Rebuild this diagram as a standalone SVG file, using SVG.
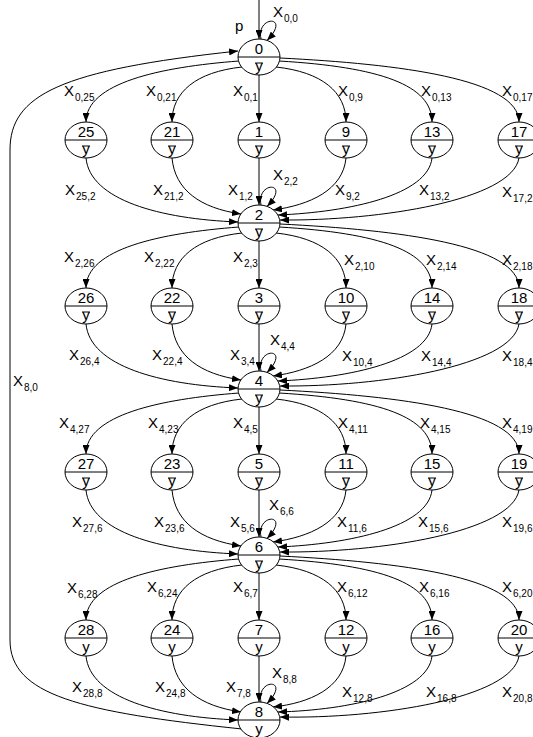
<svg xmlns="http://www.w3.org/2000/svg" width="533" height="737" viewBox="0 0 533 737">
<defs>
<marker id="a" viewBox="0 0 9 7" refX="9" refY="3.5" markerWidth="9" markerHeight="7" markerUnits="userSpaceOnUse" orient="auto"><path d="M0,0 L9,3.5 L0,7 z" fill="#000"/></marker>
<style>
.n ellipse{fill:#fff;stroke:#000;stroke-width:1}
.n line{stroke:#000;stroke-width:1}
.num{font-family:"Liberation Sans",Arial,sans-serif;font-size:15px;text-anchor:middle;fill:#000}
#edges path{fill:none;stroke:#000;stroke-width:1;marker-end:url(#a)}
.lb{font-family:"Liberation Sans",Arial,sans-serif;font-size:15px;fill:#000}
.sb{font-size:10px}
</style>
</defs>
<rect width="533" height="737" fill="#fff"/>
<g id="edges">
<path d="M259,0 L259,39"/>
<path d="M242,729 C80,712 10,695 10,640 L10,150 C10,95 60,70 238,51"/>
<path d="M239,61 C160,67 86,83 86,122"/>
<path d="M242,67 C196,72 172,92 172,122"/>
<path d="M259,75 L259,122"/>
<path d="M276,67 C322,72 346,92 346,122"/>
<path d="M279,61 C380,67 432,85 432,122"/>
<path d="M280,58 C400,64 519,79 519,122"/>
<path d="M86,158 C90,200 160,219 238,222"/>
<path d="M172,158 C175,190 200,208 241,214"/>
<path d="M259,158 L259,205"/>
<path d="M346,158 C343,190 310,205 273,210"/>
<path d="M432,158 C428,195 350,212 278,215"/>
<path d="M519,158 C512,200 380,221 280,220"/>
<path d="M261,39 C256,15 292,15 267,40.5"/>
<path d="M239,227 C160,233 86,249 86,288"/>
<path d="M242,233 C196,238 172,258 172,288"/>
<path d="M259,241 L259,288"/>
<path d="M276,233 C322,238 346,258 346,288"/>
<path d="M279,227 C380,233 432,251 432,288"/>
<path d="M280,224 C400,230 519,245 519,288"/>
<path d="M86,324 C90,366 160,385 238,388"/>
<path d="M172,324 C175,356 200,374 241,380"/>
<path d="M259,324 L259,371"/>
<path d="M346,324 C343,356 310,371 273,376"/>
<path d="M432,324 C428,361 350,378 278,381"/>
<path d="M519,324 C512,366 380,387 280,386"/>
<path d="M261,205 C256,181 292,181 267,206.5"/>
<path d="M239,393 C160,399 86,415 86,454"/>
<path d="M242,399 C196,404 172,424 172,454"/>
<path d="M259,407 L259,454"/>
<path d="M276,399 C322,404 346,424 346,454"/>
<path d="M279,393 C380,399 432,417 432,454"/>
<path d="M280,390 C400,396 519,411 519,454"/>
<path d="M86,490 C90,532 160,551 238,554"/>
<path d="M172,490 C175,522 200,540 241,546"/>
<path d="M259,490 L259,537"/>
<path d="M346,490 C343,522 310,537 273,542"/>
<path d="M432,490 C428,527 350,544 278,547"/>
<path d="M519,490 C512,532 380,553 280,552"/>
<path d="M261,371 C256,347 292,347 267,372.5"/>
<path d="M239,559 C160,565 86,581 86,620"/>
<path d="M242,565 C196,570 172,590 172,620"/>
<path d="M259,573 L259,620"/>
<path d="M276,565 C322,570 346,590 346,620"/>
<path d="M279,559 C380,565 432,583 432,620"/>
<path d="M280,556 C400,562 519,577 519,620"/>
<path d="M86,656 C90,698 160,717 238,720"/>
<path d="M172,656 C175,688 200,706 241,712"/>
<path d="M259,656 L259,702"/>
<path d="M346,656 C343,688 310,703 273,707"/>
<path d="M432,656 C428,693 350,710 278,712"/>
<path d="M519,656 C512,698 380,719 280,717"/>
<path d="M261,537 C256,513 292,513 267,538.5"/>
<path d="M261,702 C256,678 292,678 267,703.5"/>
</g>
<g id="labels">
<text class="lb" x="235" y="31" font-size="17">p</text>
<text class="lb" x="13" y="386">X<tspan class="sb" dx="1" dy="5">8,0</tspan></text>
<text class="lb" x="273" y="17">X<tspan class="sb" dx="1" dy="5">0,0</tspan></text>
<text class="lb" x="273" y="180">X<tspan class="sb" dx="1" dy="5">2,2</tspan></text>
<text class="lb" x="270" y="345">X<tspan class="sb" dx="1" dy="5">4,4</tspan></text>
<text class="lb" x="269" y="510">X<tspan class="sb" dx="1" dy="5">6,6</tspan></text>
<text class="lb" x="272" y="678">X<tspan class="sb" dx="1" dy="5">8,8</tspan></text>
<text class="lb" x="64" y="96">X<tspan class="sb" dx="1" dy="5">0,25</tspan></text>
<text class="lb" x="146" y="96">X<tspan class="sb" dx="1" dy="5">0,21</tspan></text>
<text class="lb" x="233" y="96">X<tspan class="sb" dx="1" dy="5">0,1</tspan></text>
<text class="lb" x="338" y="96">X<tspan class="sb" dx="1" dy="5">0,9</tspan></text>
<text class="lb" x="421" y="96">X<tspan class="sb" dx="1" dy="5">0,13</tspan></text>
<text class="lb" x="502" y="96">X<tspan class="sb" dx="1" dy="5">0,17</tspan></text>
<text class="lb" x="65" y="195">X<tspan class="sb" dx="1" dy="5">25,2</tspan></text>
<text class="lb" x="153" y="195">X<tspan class="sb" dx="1" dy="5">21,2</tspan></text>
<text class="lb" x="228" y="195">X<tspan class="sb" dx="1" dy="5">1,2</tspan></text>
<text class="lb" x="335" y="195">X<tspan class="sb" dx="1" dy="5">9,2</tspan></text>
<text class="lb" x="419" y="195">X<tspan class="sb" dx="1" dy="5">13,2</tspan></text>
<text class="lb" x="502" y="197">X<tspan class="sb" dx="1" dy="5">17,2</tspan></text>
<text class="lb" x="64" y="262">X<tspan class="sb" dx="1" dy="5">2,26</tspan></text>
<text class="lb" x="144" y="262">X<tspan class="sb" dx="1" dy="5">2,22</tspan></text>
<text class="lb" x="233" y="262">X<tspan class="sb" dx="1" dy="5">2,3</tspan></text>
<text class="lb" x="344" y="265">X<tspan class="sb" dx="1" dy="5">2,10</tspan></text>
<text class="lb" x="426" y="265">X<tspan class="sb" dx="1" dy="5">2,14</tspan></text>
<text class="lb" x="502" y="265">X<tspan class="sb" dx="1" dy="5">2,18</tspan></text>
<text class="lb" x="69" y="360">X<tspan class="sb" dx="1" dy="5">26,4</tspan></text>
<text class="lb" x="152" y="360">X<tspan class="sb" dx="1" dy="5">22,4</tspan></text>
<text class="lb" x="230" y="360">X<tspan class="sb" dx="1" dy="5">3,4</tspan></text>
<text class="lb" x="342" y="361">X<tspan class="sb" dx="1" dy="5">10,4</tspan></text>
<text class="lb" x="421" y="361">X<tspan class="sb" dx="1" dy="5">14,4</tspan></text>
<text class="lb" x="502" y="361">X<tspan class="sb" dx="1" dy="5">18,4</tspan></text>
<text class="lb" x="59" y="428">X<tspan class="sb" dx="1" dy="5">4,27</tspan></text>
<text class="lb" x="148" y="428">X<tspan class="sb" dx="1" dy="5">4,23</tspan></text>
<text class="lb" x="233" y="428">X<tspan class="sb" dx="1" dy="5">4,5</tspan></text>
<text class="lb" x="338" y="428">X<tspan class="sb" dx="1" dy="5">4,11</tspan></text>
<text class="lb" x="420" y="428">X<tspan class="sb" dx="1" dy="5">4,15</tspan></text>
<text class="lb" x="502" y="428">X<tspan class="sb" dx="1" dy="5">4,19</tspan></text>
<text class="lb" x="72" y="527">X<tspan class="sb" dx="1" dy="5">27,6</tspan></text>
<text class="lb" x="154" y="527">X<tspan class="sb" dx="1" dy="5">23,6</tspan></text>
<text class="lb" x="230" y="527">X<tspan class="sb" dx="1" dy="5">5,6</tspan></text>
<text class="lb" x="337" y="527">X<tspan class="sb" dx="1" dy="5">11,6</tspan></text>
<text class="lb" x="418" y="527">X<tspan class="sb" dx="1" dy="5">15,6</tspan></text>
<text class="lb" x="502" y="527">X<tspan class="sb" dx="1" dy="5">19,6</tspan></text>
<text class="lb" x="67" y="593">X<tspan class="sb" dx="1" dy="5">6,28</tspan></text>
<text class="lb" x="147" y="592">X<tspan class="sb" dx="1" dy="5">6,24</tspan></text>
<text class="lb" x="233" y="592">X<tspan class="sb" dx="1" dy="5">6,7</tspan></text>
<text class="lb" x="337" y="592">X<tspan class="sb" dx="1" dy="5">6,12</tspan></text>
<text class="lb" x="419" y="592">X<tspan class="sb" dx="1" dy="5">6,16</tspan></text>
<text class="lb" x="502" y="592">X<tspan class="sb" dx="1" dy="5">6,20</tspan></text>
<text class="lb" x="72" y="692">X<tspan class="sb" dx="1" dy="5">28,8</tspan></text>
<text class="lb" x="155" y="692">X<tspan class="sb" dx="1" dy="5">24,8</tspan></text>
<text class="lb" x="226" y="692">X<tspan class="sb" dx="1" dy="5">7,8</tspan></text>
<text class="lb" x="342" y="697">X<tspan class="sb" dx="1" dy="5">12,8</tspan></text>
<text class="lb" x="426" y="697">X<tspan class="sb" dx="1" dy="5">16,8</tspan></text>
<text class="lb" x="502" y="697">X<tspan class="sb" dx="1" dy="5">20,8</tspan></text>
</g>
<g id="n0" class="n"><ellipse cx="259" cy="57" rx="21" ry="18"/><line x1="238" y1="57" x2="280" y2="57"/><text class="num" x="259" y="54">0</text><text class="num" x="259" y="71">y</text><line x1="255" y1="63" x2="263" y2="63"/></g>
<g id="n25" class="n"><ellipse cx="86" cy="140" rx="21" ry="18"/><line x1="65" y1="140" x2="107" y2="140"/><text class="num" x="86" y="137">25</text><text class="num" x="86" y="154">y</text><line x1="82" y1="146" x2="90" y2="146"/></g>
<g id="n21" class="n"><ellipse cx="172" cy="140" rx="21" ry="18"/><line x1="151" y1="140" x2="193" y2="140"/><text class="num" x="172" y="137">21</text><text class="num" x="172" y="154">y</text><line x1="168" y1="146" x2="176" y2="146"/></g>
<g id="n1" class="n"><ellipse cx="259" cy="140" rx="21" ry="18"/><line x1="238" y1="140" x2="280" y2="140"/><text class="num" x="259" y="137">1</text><text class="num" x="259" y="154">y</text><line x1="255" y1="146" x2="263" y2="146"/></g>
<g id="n9" class="n"><ellipse cx="346" cy="140" rx="21" ry="18"/><line x1="325" y1="140" x2="367" y2="140"/><text class="num" x="346" y="137">9</text><text class="num" x="346" y="154">y</text><line x1="342" y1="146" x2="350" y2="146"/></g>
<g id="n13" class="n"><ellipse cx="432" cy="140" rx="21" ry="18"/><line x1="411" y1="140" x2="453" y2="140"/><text class="num" x="432" y="137">13</text><text class="num" x="432" y="154">y</text><line x1="428" y1="146" x2="436" y2="146"/></g>
<g id="n17" class="n"><ellipse cx="519" cy="140" rx="21" ry="18"/><line x1="498" y1="140" x2="540" y2="140"/><text class="num" x="519" y="137">17</text><text class="num" x="519" y="154">y</text><line x1="515" y1="146" x2="523" y2="146"/></g>
<g id="n2" class="n"><ellipse cx="259" cy="223" rx="21" ry="18"/><line x1="238" y1="223" x2="280" y2="223"/><text class="num" x="259" y="220">2</text><text class="num" x="259" y="237">y</text><line x1="255" y1="229" x2="263" y2="229"/></g>
<g id="n26" class="n"><ellipse cx="86" cy="306" rx="21" ry="18"/><line x1="65" y1="306" x2="107" y2="306"/><text class="num" x="86" y="303">26</text><text class="num" x="86" y="320">y</text><line x1="82" y1="312" x2="90" y2="312"/></g>
<g id="n22" class="n"><ellipse cx="172" cy="306" rx="21" ry="18"/><line x1="151" y1="306" x2="193" y2="306"/><text class="num" x="172" y="303">22</text><text class="num" x="172" y="320">y</text><line x1="168" y1="312" x2="176" y2="312"/></g>
<g id="n3" class="n"><ellipse cx="259" cy="306" rx="21" ry="18"/><line x1="238" y1="306" x2="280" y2="306"/><text class="num" x="259" y="303">3</text><text class="num" x="259" y="320">y</text><line x1="255" y1="312" x2="263" y2="312"/></g>
<g id="n10" class="n"><ellipse cx="346" cy="306" rx="21" ry="18"/><line x1="325" y1="306" x2="367" y2="306"/><text class="num" x="346" y="303">10</text><text class="num" x="346" y="320">y</text><line x1="342" y1="312" x2="350" y2="312"/></g>
<g id="n14" class="n"><ellipse cx="432" cy="306" rx="21" ry="18"/><line x1="411" y1="306" x2="453" y2="306"/><text class="num" x="432" y="303">14</text><text class="num" x="432" y="320">y</text><line x1="428" y1="312" x2="436" y2="312"/></g>
<g id="n18" class="n"><ellipse cx="519" cy="306" rx="21" ry="18"/><line x1="498" y1="306" x2="540" y2="306"/><text class="num" x="519" y="303">18</text><text class="num" x="519" y="320">y</text><line x1="515" y1="312" x2="523" y2="312"/></g>
<g id="n4" class="n"><ellipse cx="259" cy="389" rx="21" ry="18"/><line x1="238" y1="389" x2="280" y2="389"/><text class="num" x="259" y="386">4</text><text class="num" x="259" y="403">y</text><line x1="255" y1="395" x2="263" y2="395"/></g>
<g id="n27" class="n"><ellipse cx="86" cy="472" rx="21" ry="18"/><line x1="65" y1="472" x2="107" y2="472"/><text class="num" x="86" y="469">27</text><text class="num" x="86" y="486">y</text><line x1="82" y1="478" x2="90" y2="478"/></g>
<g id="n23" class="n"><ellipse cx="172" cy="472" rx="21" ry="18"/><line x1="151" y1="472" x2="193" y2="472"/><text class="num" x="172" y="469">23</text><text class="num" x="172" y="486">y</text><line x1="168" y1="478" x2="176" y2="478"/></g>
<g id="n5" class="n"><ellipse cx="259" cy="472" rx="21" ry="18"/><line x1="238" y1="472" x2="280" y2="472"/><text class="num" x="259" y="469">5</text><text class="num" x="259" y="486">y</text><line x1="255" y1="478" x2="263" y2="478"/></g>
<g id="n11" class="n"><ellipse cx="346" cy="472" rx="21" ry="18"/><line x1="325" y1="472" x2="367" y2="472"/><text class="num" x="346" y="469">11</text><text class="num" x="346" y="486">y</text><line x1="342" y1="478" x2="350" y2="478"/></g>
<g id="n15" class="n"><ellipse cx="432" cy="472" rx="21" ry="18"/><line x1="411" y1="472" x2="453" y2="472"/><text class="num" x="432" y="469">15</text><text class="num" x="432" y="486">y</text><line x1="428" y1="478" x2="436" y2="478"/></g>
<g id="n19" class="n"><ellipse cx="519" cy="472" rx="21" ry="18"/><line x1="498" y1="472" x2="540" y2="472"/><text class="num" x="519" y="469">19</text><text class="num" x="519" y="486">y</text><line x1="515" y1="478" x2="523" y2="478"/></g>
<g id="n6" class="n"><ellipse cx="259" cy="555" rx="21" ry="18"/><line x1="238" y1="555" x2="280" y2="555"/><text class="num" x="259" y="552">6</text><text class="num" x="259" y="569">y</text><line x1="255" y1="561" x2="263" y2="561"/></g>
<g id="n28" class="n"><ellipse cx="86" cy="638" rx="21" ry="18"/><line x1="65" y1="638" x2="107" y2="638"/><text class="num" x="86" y="635">28</text><text class="num" x="86" y="652">y</text></g>
<g id="n24" class="n"><ellipse cx="172" cy="638" rx="21" ry="18"/><line x1="151" y1="638" x2="193" y2="638"/><text class="num" x="172" y="635">24</text><text class="num" x="172" y="652">y</text></g>
<g id="n7" class="n"><ellipse cx="259" cy="638" rx="21" ry="18"/><line x1="238" y1="638" x2="280" y2="638"/><text class="num" x="259" y="635">7</text><text class="num" x="259" y="652">y</text></g>
<g id="n12" class="n"><ellipse cx="346" cy="638" rx="21" ry="18"/><line x1="325" y1="638" x2="367" y2="638"/><text class="num" x="346" y="635">12</text><text class="num" x="346" y="652">y</text></g>
<g id="n16" class="n"><ellipse cx="432" cy="638" rx="21" ry="18"/><line x1="411" y1="638" x2="453" y2="638"/><text class="num" x="432" y="635">16</text><text class="num" x="432" y="652">y</text></g>
<g id="n20" class="n"><ellipse cx="519" cy="638" rx="21" ry="18"/><line x1="498" y1="638" x2="540" y2="638"/><text class="num" x="519" y="635">20</text><text class="num" x="519" y="652">y</text></g>
<g id="n8" class="n"><ellipse cx="259" cy="720" rx="21" ry="18"/><line x1="238" y1="720" x2="280" y2="720"/><text class="num" x="259" y="717">8</text><text class="num" x="259" y="734">y</text></g>
</svg>
